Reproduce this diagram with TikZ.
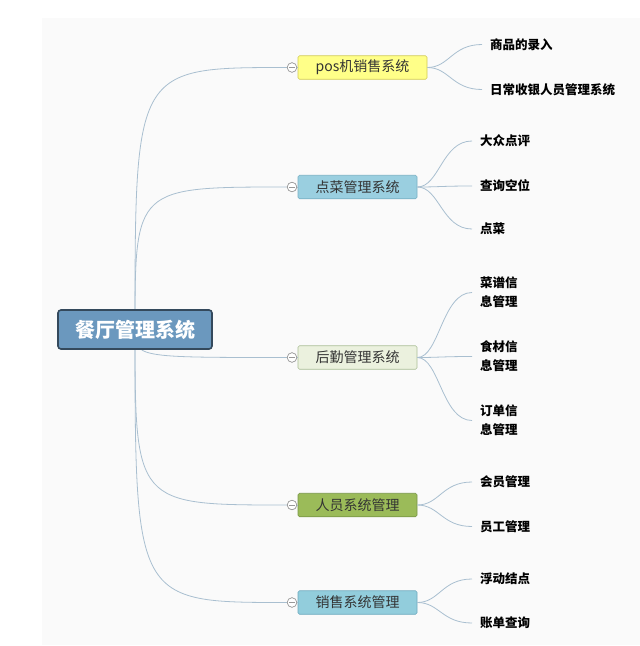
\documentclass[tikz,border=0pt]{standalone}
\usepackage{fontspec}
\setmainfont{Noto Sans CJK SC}
\newfontfamily\cjkb[BoldFont={Noto Sans CJK SC Bold}]{Noto Sans CJK SC}
\begin{document}
\begin{tikzpicture}[x=1pt,y=-1pt,
  link/.style={draw=linkc, line width=0.8pt},
  rootbox/.style={draw=rootd, line width=1.6pt, fill=rootf, rounded corners=3pt,
    minimum width=154pt, minimum height=39pt, inner sep=0pt,
    font=\fontsize{20}{24}\selectfont\bfseries, text=white},
  topicbox/.style={line width=0.6pt, rounded corners=1.5pt, minimum height=23.5pt,
    inner sep=0pt, font=\fontsize{14}{16}\selectfont, text=black!80},
  leaf/.style={anchor=west, inner xsep=8pt, inner ysep=1pt, align=left,
    font=\fontsize{12.5}{19}\selectfont\bfseries, text=black},
  knob/.style={circle, draw=gray!80, fill=white, line width=0.6pt, minimum size=9.5pt, inner sep=0pt,
    path picture={\draw[gray!80, line width=0.6pt] ([xshift=-2.6pt]path picture bounding box.center) -- ([xshift=2.6pt]path picture bounding box.center);}}
]
\definecolor{linkc}{HTML}{A9BFD0}
\definecolor{rootf}{HTML}{6B98BE}
\definecolor{rootd}{HTML}{34495C}
\useasboundingbox (0,0) rectangle (640,646);
\fill[white] (0,0) rectangle (640,646);
\fill[black!2] (42,18) rectangle (640,645);

% root
\coordinate (rc) at (135,329.5);

% level 1 nodes
\node[topicbox, draw=yellow!60!gray, fill={rgb,255:red,255;green,255;blue,136}, minimum width=129pt] (pos) at (362.5,67.5) {pos机销售系统};
\node[topicbox, draw={rgb,255:red,120;green,176;blue,196}, fill={rgb,255:red,154;green,207;blue,224}, minimum width=119pt] (dc) at (357.5,187) {点菜管理系统};
\node[topicbox, draw={rgb,255:red,170;green,190;blue,150}, fill={rgb,255:red,235;green,241;blue,222}, minimum width=119pt] (hq) at (357.5,357.5) {后勤管理系统};
\node[topicbox, draw={rgb,255:red,120;green,150;blue,70}, fill={rgb,255:red,155;green,187;blue,89}, minimum width=119pt] (ry) at (357.5,505) {人员系统管理};
\node[topicbox, draw={rgb,255:red,110;green,170;blue,190}, fill={rgb,255:red,146;green,205;blue,220}, minimum width=119pt] (xs) at (357.5,602.5) {销售系统管理};

% knobs
\node[knob] (kpos) at (292,67.5) {};
\node[knob] (kdc) at (292,187) {};
\node[knob] (khq) at (292,357.5) {};
\node[knob] (kry) at (292,505) {};
\node[knob] (kxs) at (292,602.5) {};

% root links (behind root)
\begin{scope}[on background layer/.try]
\end{scope}
\draw[link] (rc) .. controls (135,67.5) .. (kpos.west);
\draw[link] (rc) .. controls (135,187) .. (kdc.west);
\draw[link] (rc) .. controls (135,357.5) .. (khq.west);
\draw[link] (rc) .. controls (135,505) .. (kry.west);
\draw[link] (rc) .. controls (135,602.5) .. (kxs.west);
\foreach \k/\t in {kpos/pos,kdc/dc,khq/hq,kry/ry,kxs/xs}{\draw[link] (\k.east) -- (\t.west);}

\node[rootbox] (root) at (rc) {餐厅管理系统};
% redraw knobs on top of links
\node[knob] at (kpos) {};
\node[knob] at (kdc) {};
\node[knob] at (khq) {};
\node[knob] at (kry) {};
\node[knob] at (kxs) {};

% leaves
\node[leaf] (a1) at (482,44.5) {商品的录入};
\node[leaf] (a2) at (482,89.5) {日常收银人员管理系统};
\node[leaf] (b1) at (472,141) {大众点评};
\node[leaf] (b2) at (472,186) {查询空位};
\node[leaf] (b3) at (472,229) {点菜};
\node[leaf] (c1) at (472,292.5) {菜谱信\\息管理};
\node[leaf] (c2) at (472,356.5) {食材信\\息管理};
\node[leaf] (c3) at (472,420.5) {订单信\\息管理};
\node[leaf] (d1) at (472,482) {会员管理};
\node[leaf] (d2) at (472,526.5) {员工管理};
\node[leaf] (e1) at (472,579) {浮动结点};
\node[leaf] (e2) at (472,623) {账单查询};

\newcommand{\leaflink}[2]{\draw[link] (#1.east) .. controls ([xshift=22pt]#1.east) and ([xshift=-30pt]#2.west) .. (#2.west);}
\leaflink{pos}{a1}\leaflink{pos}{a2}
\leaflink{dc}{b1}\leaflink{dc}{b2}\leaflink{dc}{b3}
\leaflink{hq}{c1}\leaflink{hq}{c2}\leaflink{hq}{c3}
\leaflink{ry}{d1}\leaflink{ry}{d2}
\leaflink{xs}{e1}\leaflink{xs}{e2}
\end{tikzpicture}
\end{document}
